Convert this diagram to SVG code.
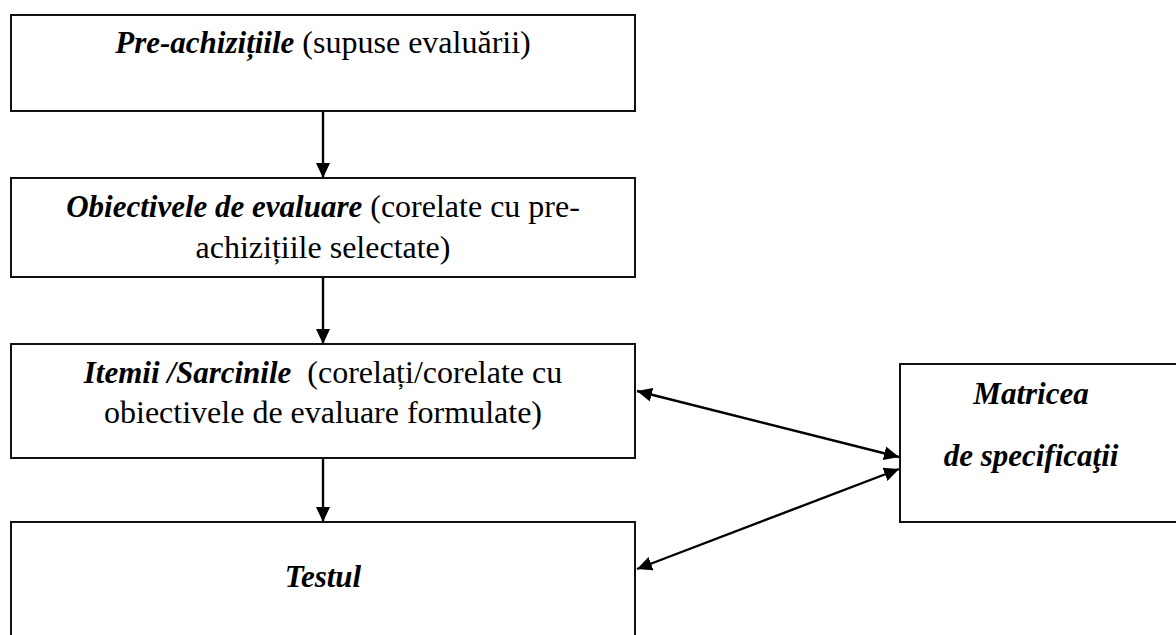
<svg xmlns="http://www.w3.org/2000/svg" width="1176" height="635" viewBox="0 0 1176 635">
<style>
.box{fill:#fff;stroke:#111;stroke-width:2}
.t{font-family:"Liberation Serif","Times New Roman",serif;font-size:32px;fill:#000;text-anchor:middle}
.bi{font-weight:bold;font-style:italic;font-size:31px}
.con{stroke:#000;stroke-width:2.4;fill:none}
</style>
<defs>
<marker id="ah" viewBox="0 0 15 14" refX="15" refY="7" markerWidth="15" markerHeight="14" markerUnits="userSpaceOnUse" orient="auto-start-reverse">
<path d="M0,0 L15,7 L0,14 z" fill="#000"/>
</marker>
</defs>
<rect width="1176" height="635" fill="#fff"/>
<g id="connectors">
<line class="con" x1="323" y1="111" x2="323" y2="178" marker-end="url(#ah)"/>
<line class="con" x1="323" y1="277" x2="323" y2="344" marker-end="url(#ah)"/>
<line class="con" x1="323" y1="458" x2="323" y2="522" marker-end="url(#ah)"/>
<line class="con" x1="637" y1="391" x2="899" y2="457" marker-start="url(#ah)" marker-end="url(#ah)"/>
<line class="con" x1="637" y1="569" x2="899" y2="469" marker-start="url(#ah)" marker-end="url(#ah)"/>
</g>
<g id="n1">
<rect class="box" x="11" y="15" width="624" height="96"/>
<text class="t" x="323" y="53"><tspan class="bi">Pre-achizițiile</tspan> (supuse evaluării)</text>
</g>
<g id="n2">
<rect class="box" x="11" y="178" width="624" height="99"/>
<text class="t" x="323" y="217"><tspan class="bi">Obiectivele de evaluare</tspan> (corelate cu pre-</text>
<text class="t" x="323" y="258">achizițiile selectate)</text>
</g>
<g id="n3">
<rect class="box" x="11" y="344" width="624" height="114"/>
<text class="t" x="323" y="383"><tspan class="bi">Itemii /Sarcinile</tspan><tspan dx="16">(corelați/corelate cu</tspan></text>
<text class="t" x="323" y="423">obiectivele de evaluare formulate)</text>
</g>
<g id="n4">
<rect class="box" x="11" y="522" width="624" height="140"/>
<text class="t bi" x="323" y="587">Testul</text>
</g>
<g id="n5">
<rect class="box" x="900" y="364" width="290" height="158"/>
<text class="t bi" x="1031" y="404">Matricea</text>
<text class="t bi" x="1031" y="466">de specificaţii</text>
</g>
</svg>
